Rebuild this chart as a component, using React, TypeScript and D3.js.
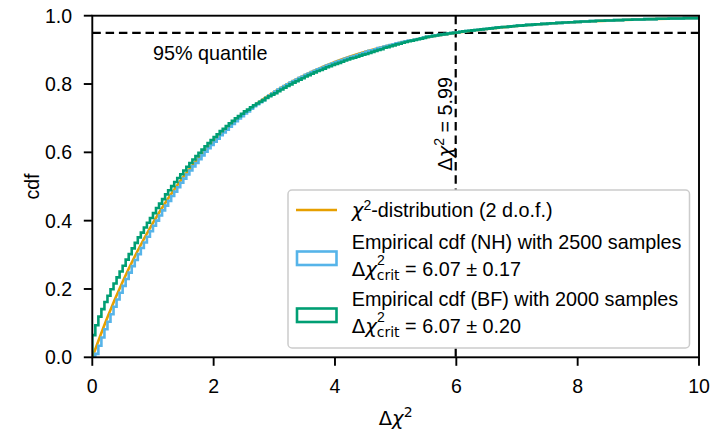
import React from 'react';
import * as d3 from 'd3';

// ---------- data ----------
const X_TICKS = [0, 2, 4, 6, 8, 10];
const Y_TICKS = [0, 0.2, 0.4, 0.6, 0.8, 1.0];

// theoretical chi^2 (2 d.o.f.) cdf
const CHI2_X = [0, 0.25, 0.5, 0.75, 1, 1.25, 1.5, 1.75, 2, 2.25, 2.5, 2.75, 3, 3.25, 3.5, 3.75, 4, 4.25, 4.5, 4.75, 5,
  5.25, 5.5, 5.75, 6, 6.25, 6.5, 6.75, 7, 7.25, 7.5, 7.75, 8, 8.25, 8.5, 8.75, 9, 9.25, 9.5, 9.75, 10];
const CHI2_CDF = [0, 0.1175, 0.2212, 0.3127, 0.3935, 0.4647, 0.5276, 0.5831, 0.6321, 0.6753, 0.7135, 0.7472, 0.7769,
  0.8031, 0.8262, 0.8466, 0.8647, 0.8806, 0.8946, 0.907, 0.9179, 0.9276, 0.9361, 0.9436, 0.9502, 0.9561, 0.9612,
  0.9658, 0.9698, 0.9734, 0.9765, 0.9792, 0.9817, 0.9838, 0.9857, 0.9874, 0.9889, 0.9902, 0.9913, 0.9924, 0.9933];

// cumulative step histograms, bin width 0.05 from 0 to 10
const BIN_WIDTH = 0.05;
const TAIL = [
  0.938, 0.939, 0.941, 0.942, 0.944, 0.945, 0.946, 0.948, 0.949, 0.950,
  0.951, 0.953, 0.954, 0.955, 0.956, 0.957, 0.958, 0.959, 0.960, 0.961,
  0.962, 0.963, 0.964, 0.965, 0.966, 0.967, 0.967, 0.968, 0.969, 0.970,
  0.971, 0.971, 0.972, 0.973, 0.973, 0.974, 0.975, 0.975, 0.976, 0.976,
  0.977, 0.978, 0.978, 0.979, 0.979, 0.980, 0.980, 0.981, 0.981, 0.982,
  0.982, 0.983, 0.983, 0.983, 0.984, 0.984, 0.985, 0.985, 0.985, 0.986,
  0.986, 0.986, 0.987, 0.987, 0.987, 0.988, 0.988, 0.988, 0.989, 0.989,
  0.989, 0.989, 0.990, 0.990, 0.990, 0.990, 0.991, 0.991, 0.991, 0.991,
  0.992, 0.992, 0.992, 0.992, 0.992, 0.993, 0.993, 0.993, 0.993, 0.993];

const CDF_NH = [
  0.000, 0.010, 0.034, 0.058, 0.082, 0.104, 0.126, 0.148, 0.169, 0.189,
  0.209, 0.229, 0.248, 0.267, 0.285, 0.302, 0.320, 0.336, 0.353, 0.369,
  0.385, 0.400, 0.415, 0.430, 0.444, 0.458, 0.472, 0.485, 0.498, 0.511,
  0.523, 0.535, 0.547, 0.559, 0.569, 0.580, 0.591, 0.602, 0.612, 0.622,
  0.631, 0.640, 0.650, 0.658, 0.666, 0.675, 0.683, 0.691, 0.699, 0.706,
  0.714, 0.720, 0.728, 0.735, 0.741, 0.747, 0.753, 0.760, 0.766, 0.772,
  0.778, 0.784, 0.789, 0.794, 0.799, 0.804, 0.809, 0.813, 0.818, 0.822,
  0.827, 0.831, 0.835, 0.839, 0.843, 0.846, 0.850, 0.854, 0.857, 0.861,
  0.864, 0.867, 0.870, 0.874, 0.877, 0.880, 0.882, 0.885, 0.888, 0.891,
  0.894, 0.897, 0.899, 0.902, 0.905, 0.907, 0.910, 0.912, 0.914, 0.916,
  0.919, 0.921, 0.923, 0.925, 0.927, 0.928, 0.930, 0.932, 0.934, 0.936,
  ...TAIL];

const CDF_BF = [
  0.065, 0.094, 0.119, 0.141, 0.162, 0.180, 0.199, 0.216, 0.234, 0.251,
  0.268, 0.286, 0.302, 0.319, 0.335, 0.351, 0.365, 0.380, 0.394, 0.408,
  0.422, 0.437, 0.450, 0.463, 0.477, 0.489, 0.501, 0.513, 0.525, 0.536,
  0.547, 0.558, 0.569, 0.579, 0.589, 0.599, 0.608, 0.618, 0.627, 0.636,
  0.645, 0.653, 0.662, 0.669, 0.677, 0.685, 0.692, 0.700, 0.706, 0.713,
  0.720, 0.725, 0.732, 0.738, 0.743, 0.748, 0.753, 0.759, 0.764, 0.769,
  0.773, 0.779, 0.784, 0.789, 0.794, 0.799, 0.804, 0.808, 0.813, 0.817,
  0.822, 0.826, 0.830, 0.834, 0.838, 0.841, 0.845, 0.849, 0.852, 0.856,
  0.859, 0.862, 0.865, 0.869, 0.872, 0.875, 0.877, 0.880, 0.883, 0.886,
  0.888, 0.891, 0.894, 0.897, 0.900, 0.902, 0.906, 0.908, 0.911, 0.913,
  0.916, 0.918, 0.921, 0.923, 0.925, 0.927, 0.929, 0.931, 0.933, 0.935,
  ...TAIL];

const QUANTILE = 0.95;
const CRIT_X = 5.99;

// ---------- layout ----------
const W = 710, H = 429;
const PLOT = { left: 92.3, right: 699, top: 15.7, bottom: 357.3 };
const ORANGE = '#E69F00', BLUE = '#56B4E9', GREEN = '#009E73';
const FONT = "'Liberation Sans', Arial, Helvetica, sans-serif";
const MATH = "'DejaVu Sans', sans-serif";
const FS = 19.8;
const TFS = 19.5;
const SS = 14;
const LW = 2.6;

const x = d3.scaleLinear().domain([0, 10]).range([PLOT.left, PLOT.right]);
const y = d3.scaleLinear().domain([0, 1]).range([PLOT.bottom, PLOT.top]);

function stepPath(vals: number[]): string {
  const pts: [number, number][] = [[0, 0]];
  vals.forEach((v, i) => pts.push([i * BIN_WIDTH, v]));
  pts.push([vals.length * BIN_WIDTH, vals[vals.length - 1]]);
  return d3.line<[number, number]>()
    .x(d => x(d[0]))
    .y(d => y(d[1]))
    .curve(d3.curveStepAfter)(pts) || '';
}

const chiLine = d3.line<number>()
  .x((_, i) => x(CHI2_X[i]))
  .y(d => y(d))
  .curve(d3.curveMonotoneX);

const Chi = () => <tspan fontFamily={MATH} fontStyle="italic">χ</tspan>;

export default function App() {
  const tickLen = 8.5;
  return (
    <svg width={W} height={H} style={{ position: 'absolute', left: 0, top: 0, background: '#fff' }}
      fontFamily={FONT}>
      <defs>
        <clipPath id="plotclip">
          <rect x={PLOT.left} y={PLOT.top} width={PLOT.right - PLOT.left} height={PLOT.bottom - PLOT.top} />
        </clipPath>
      </defs>
      <rect x={0} y={0} width={W} height={H} fill="#fff" />

      {/* reference lines */}
      <g clipPath="url(#plotclip)">
        <line x1={PLOT.left} x2={PLOT.right} y1={y(QUANTILE)} y2={y(QUANTILE)}
          stroke="#000" strokeWidth={2.2} strokeDasharray="8.5,4.8" />
        <line x1={x(CRIT_X)} x2={x(CRIT_X)} y1={PLOT.top} y2={PLOT.bottom}
          stroke="#000" strokeWidth={2.2} strokeDasharray="8.5,4.8" />
      </g>

      {/* curves */}
      <g clipPath="url(#plotclip)" fill="none">
        <path d={chiLine(CHI2_CDF) || ''} stroke={ORANGE} strokeWidth={LW} />
        <path d={stepPath(CDF_NH)} stroke={BLUE} strokeWidth={LW} />
        <path d={stepPath(CDF_BF)} stroke={GREEN} strokeWidth={LW} />
      </g>

      {/* spines */}
      <rect x={PLOT.left} y={PLOT.top} width={PLOT.right - PLOT.left} height={PLOT.bottom - PLOT.top}
        fill="none" stroke="#000" strokeWidth={1.9} />

      {/* x ticks */}
      {X_TICKS.map(t => (
        <g key={'x' + t}>
          <line x1={x(t)} x2={x(t)} y1={PLOT.bottom} y2={PLOT.bottom + tickLen} stroke="#000" strokeWidth={1.9} />
          <text x={x(t)} y={392.5} fontSize={TFS} textAnchor="middle">{d3.format('d')(t)}</text>
        </g>
      ))}
      {/* y ticks */}
      {Y_TICKS.map(t => (
        <g key={'y' + t}>
          <line x1={PLOT.left - tickLen} x2={PLOT.left} y1={y(t)} y2={y(t)} stroke="#000" strokeWidth={1.9} />
          <text x={72} y={y(t) + 7} fontSize={TFS} textAnchor="end">{d3.format('.1f')(t)}</text>
        </g>
      ))}

      {/* axis labels */}
      <text transform={`translate(39,${(PLOT.top + PLOT.bottom) / 2}) rotate(-90)`} fontSize={TFS}
        textAnchor="middle">cdf</text>
      <text x={(PLOT.left + PLOT.right) / 2} y={424.5} fontSize={19.5} textAnchor="middle" fontFamily={MATH}>
        Δ<Chi /><tspan dy={-8} fontSize={SS}>2</tspan>
      </text>

      {/* annotations */}
      <text x={153} y={60} fontSize={FS}>95% quantile</text>
      <text transform={`translate(451.5,124) rotate(-90)`} fontSize={FS} textAnchor="middle">
        <tspan fontFamily={MATH}>Δ</tspan><Chi /><tspan dy={-8} fontSize={SS}>2</tspan>
        <tspan dy={8}> = 5.99</tspan>
      </text>

      {/* legend */}
      <rect x={288} y={190} width={401.5} height={158} rx={4} fill="#fff" stroke="#cccccc" strokeWidth={1.5} />
      <line x1={296} x2={337} y1={210} y2={210} stroke={ORANGE} strokeWidth={LW} />
      <text x={351.7} y={216.5} fontSize={FS}>
        <Chi /><tspan dy={-7} fontSize={SS}>2</tspan><tspan dy={7}>-distribution (2 d.o.f.)</tspan>
      </text>

      <rect x={297} y={251.5} width={39.5} height={13.5} fill="#fff" stroke={BLUE} strokeWidth={LW} />
      <text x={351.7} y={249} fontSize={FS}>Empirical cdf (NH) with 2500 samples</text>
      <text x={351.7} y={276} fontSize={FS}>
        <tspan fontFamily={MATH}>Δ</tspan><Chi /><tspan dy={-11} fontSize={SS}>2</tspan>
        <tspan dx={-8} dy={15} fontSize={SS} fontFamily={MATH}>crit</tspan>
        <tspan dy={-4}> = 6.07 ± 0.17</tspan>
      </text>

      <rect x={297} y={308.5} width={39.5} height={13.5} fill="#fff" stroke={GREEN} strokeWidth={LW} />
      <text x={351.7} y={306} fontSize={FS}>Empirical cdf (BF) with 2000 samples</text>
      <text x={351.7} y={333.3} fontSize={FS}>
        <tspan fontFamily={MATH}>Δ</tspan><Chi /><tspan dy={-11} fontSize={SS}>2</tspan>
        <tspan dx={-8} dy={15} fontSize={SS} fontFamily={MATH}>crit</tspan>
        <tspan dy={-4}> = 6.07 ± 0.20</tspan>
      </text>
    </svg>
  );
}
